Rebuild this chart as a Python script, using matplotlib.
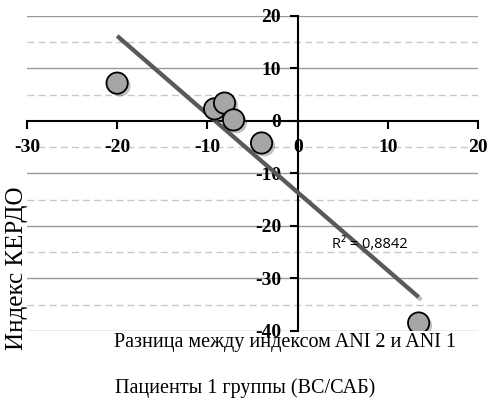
import numpy as np
import matplotlib.pyplot as plt
import matplotlib.patheffects as pe

plt.rcParams.update({'font.family': ['Liberation Serif', 'DejaVu Serif'], 'axes.unicode_minus': False})

# data
x_vals = [-20.0, -9.2, -8.1, -7.1, -4.0, 13.4]
y_vals = [7.2, 2.3, 3.4, 0.2, -4.2, -38.5]
trend_slope = -1.49
trend_intercept = -13.6
r2_text = 'R² = 0,8842'
x_ticks = [-30, -20, -10, 0, 10, 20]
y_ticks = [20, 10, 0, -10, -20, -30, -40]
y_minor = [15, 5, -5, -15, -25, -35]

fig = plt.figure(figsize=(4.88, 4.09), dpi=100)
ax = fig.add_axes([0.055, 0.191, 0.925, 0.770])
ax.set_xlim(-30, 20)
ax.set_ylim(-40, 20)

# grid
for yv in y_ticks:
    if yv != 0:
        ax.axhline(yv, color='#9a9a9a', lw=1.0, zorder=1)
for yv in y_minor:
    ax.axhline(yv, color='#c8c8c8', lw=1.0, ls=(0, (5, 3)), zorder=1)

for s in ['top', 'right']:
    ax.spines[s].set_visible(False)
ax.spines['left'].set_position(('data', 0))
ax.spines['bottom'].set_position(('data', 0))
for s in ['left', 'bottom']:
    ax.spines[s].set_linewidth(1.5)
    ax.spines[s].set_color('black')
    ax.spines[s].set_zorder(2)

ax.set_xticks(x_ticks)
ax.set_yticks(y_ticks)
ax.set_xticklabels([str(v) for v in x_ticks])
ax.set_yticklabels([str(v) for v in y_ticks])
ax.tick_params(axis='x', direction='out', length=6, width=1.5, pad=7, labelsize=14)
ax.tick_params(axis='y', direction='out', length=6, width=1.5, pad=6, labelsize=14)
for lab in ax.get_xticklabels() + ax.get_yticklabels():
    lab.set_fontweight('bold')

# trend line
xs = np.array([min(x_vals), max(x_vals)])
ax.plot(xs, trend_slope * xs + trend_intercept, color='#595959', lw=3, zorder=3,
        solid_capstyle='butt',
        path_effects=[pe.SimpleLineShadow(offset=(2, -2), shadow_color='#000000', alpha=0.25), pe.Normal()])

ax.scatter(x_vals, y_vals, s=235, facecolor='#a6a6a6', edgecolor='black', linewidth=1.3, zorder=4,
           path_effects=[pe.SimplePatchShadow(offset=(2, -2), alpha=0.3), pe.Normal()])

ax.text(8.0, -23.6, r2_text, fontsize=10.5, family=['Open Sans', 'DejaVu Sans'], ha='center', va='center', zorder=5)

fig.text(17 / 488, 1 - 268 / 409, 'Индекс КЕРДО', rotation=90, fontsize=18, ha='center', va='center')
fig.text(285 / 488, 1 - 343 / 409, 'Разница между индексом ANI 2 и ANI 1', fontsize=14.5, ha='center', va='center')
fig.text(245 / 488, 1 - 388 / 409, 'Пациенты 1 группы (ВС/САБ)', fontsize=14.5, ha='center', va='center')

fig.savefig('out.png', dpi=100)
